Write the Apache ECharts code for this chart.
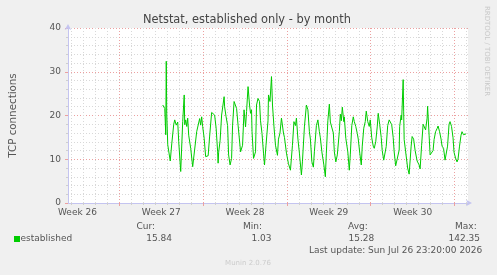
<!DOCTYPE html>
<html>
<head>
<meta charset="utf-8">
<title>Netstat, established only - by month</title>
<script src="https://cdn.jsdelivr.net/npm/echarts@6/dist/echarts.min.js"></script>
<style>
  html, body { margin: 0; padding: 0; background: #f0f0f0; }
  #chart { width: 497px; height: 275px; }
</style>
</head>
<body>
<div id="chart"></div>
<script>
// hours counted from the start (Monday 00:00) of week 27
const hours = [
  87, 89, 91, 93, 94, 95, 97, 102, 105, 109, 111, 114, 117, 119, 123, 127, 130, 131, 133, 135,
  137, 139, 143, 147, 151, 155, 158, 161, 163, 165, 167, 170, 173, 174, 178, 181, 185, 189, 191, 194,
  197, 198, 199, 202, 205, 207, 210, 211, 214, 215, 217, 219, 222, 225, 227, 230, 233, 235, 238, 241,
  243, 245, 247, 250, 253, 255, 258, 261, 263, 265, 266, 269, 270, 273, 275, 278, 281, 283, 286, 289,
  291, 294, 297, 298, 299, 302, 305, 307, 310, 313, 317, 319, 322, 325, 326, 329, 331, 335, 339, 343,
  347, 350, 353, 355, 358, 361, 365, 367, 371, 375, 378, 381, 383, 386, 389, 391, 395, 398, 401, 403,
  406, 410, 413, 415, 418, 421, 423, 426, 429, 431, 434, 437, 441, 443, 445, 447, 450, 451, 454, 458,
  461, 463, 466, 469, 471, 474, 477, 479, 482, 485, 487, 490, 493, 495, 498, 501, 503, 506, 509, 511,
  514, 517, 519, 522, 525, 527, 530, 533, 535, 538, 541, 543, 546, 549, 551, 554, 558, 561, 562, 565,
  566, 569, 570, 571, 574, 578, 581, 585, 587, 590, 593, 597, 601, 603, 606, 609, 611, 614, 617, 618,
  621, 623, 626, 629, 631, 634, 637, 639, 642, 645, 647, 650, 653, 655, 658, 661, 663, 666, 669, 671,
  674, 677, 679, 682, 685, 687, 690, 693, 695
];
const established = [
  22.4, 22.8, 21.6, 15.6, 32.4, 20.5, 13.3, 9.6, 13.5, 18.0, 19.0, 17.8, 18.5, 14.0, 7.2, 18.6, 24.7, 17.9, 19.0, 17.5,
  19.4, 15.5, 12.5, 8.3, 8.3, 16.3, 16.7, 19.3, 17.8, 19.7, 17.5, 14.8, 10.6, 10.8, 10.8, 15.3, 20.7, 20.3, 20.1, 17.1,
  11.7, 9.1, 11.5, 14.3, 20.1, 20.5, 24.3, 22.0, 19.7, 20.1, 17.7, 11.0, 8.7, 10.2, 17.8, 23.2, 23.5, 21.6, 17.8, 17.4,
  11.7, 11.4, 13.2, 21.3, 17.4, 20.9, 26.6, 22.4, 20.5, 21.3, 16.3, 10.2, 10.2, 11.7, 22.4, 23.9, 23.2, 18.8, 15.9, 11.4,
  8.7, 13.2, 13.5, 18.8, 24.7, 23.2, 28.9, 22.4, 17.4, 13.2, 10.9, 14.6, 16.0, 19.4, 19.7, 16.0, 15.0, 11.4, 9.0, 7.5,
  13.2, 18.6, 17.7, 19.4, 14.6, 11.4, 6.4, 9.4, 17.4, 22.4, 21.3, 16.3, 14.6, 9.4, 8.2, 11.7, 17.7, 19.0, 16.3, 14.9,
  11.7, 8.7, 6.0, 11.4, 18.8, 22.6, 18.5, 18.8, 16.0, 11.7, 9.4, 11.0, 16.3, 20.3, 18.8, 21.9, 18.6, 19.7, 14.8, 11.7,
  7.5, 11.0, 17.7, 19.7, 18.6, 17.5, 15.9, 14.6, 11.4, 8.7, 13.0, 17.1, 18.6, 21.0, 18.6, 17.5, 19.0, 14.9, 13.0, 12.5,
  14.0, 17.4, 20.5, 17.9, 15.0, 12.0, 9.8, 9.8, 12.9, 17.7, 19.0, 19.0, 17.9, 15.0, 11.7, 8.5, 8.5, 12.1, 17.5, 20.1,
  19.0, 28.2, 21.0, 14.5, 11.7, 8.0, 6.6, 13.0, 15.2, 14.6, 12.0, 9.6, 8.7, 7.8, 13.2, 18.0, 18.3, 16.7, 19.4, 22.1,
  15.5, 11.0, 11.0, 12.0, 14.5, 16.3, 17.0, 17.6, 16.3, 14.6, 13.0, 12.5, 9.8, 10.2, 13.0, 18.0, 18.6, 17.5, 14.9, 11.6,
  10.3, 9.4, 10.0, 13.0, 15.5, 16.3, 15.6, 15.6, 15.8
];

const dayLines = [-96, -72, -48, -24, 0, 24, 48, 72, 96, 120, 144, 168, 192, 216, 240, 264, 288, 312, 336,
  360, 384, 408, 432, 456, 480, 504, 528, 552, 576, 600, 624, 648, 672, 696];
const weekLines = [0, 168, 336, 504, 672];
const weekCenters = [-84, 84, 252, 420, 588];
const weekLabels = ["Week 26", "Week 27", "Week 28", "Week 29", "Week 30"];

const statNames = ["Cur:", "Min:", "Avg:", "Max:"];
const statValues = ["15.84", "1.03", "15.28", "142.35"];
const lastUpdate = "Last update: Sun Jul 26 23:20:00 2026";

const FONT = "DejaVu Sans";
const TXT = "#555";
const GRID_MINOR = "#d8d8d8";
const GRID_MAJOR = "#eca0a0";
const AXIS = "#c4c4f0";

const chart = echarts.init(document.getElementById("chart"), null, { renderer: "canvas" });

const statNameRight = [155, 262, 367.7, 476.7];
const statValueRight = [172, 271.5, 374.3, 480];

const graphics = [
  {
    type: "text", x: 247, y: 20.5,
    style: { text: "Netstat, established only - by month", font: "11.4px " + FONT, fill: "#444",
      textAlign: "center", textVerticalAlign: "middle" }
  },
  {
    type: "text", x: 487, y: 51, rotation: -Math.PI / 2,
    style: { text: "RRDTOOL / TOBI OETIKER", font: "7px " + FONT, fill: "#c8c8c8",
      textAlign: "center", textVerticalAlign: "middle" }
  },
  { type: "rect", shape: { x: 14, y: 236, width: 6, height: 6 }, style: { fill: "#00cc00" } },
  {
    type: "text", x: 20.5, y: 239,
    style: { text: "established", font: "9px " + FONT, fill: TXT, textVerticalAlign: "middle" }
  },
  {
    type: "text", x: 482.3, y: 251,
    style: { text: lastUpdate, font: "9px " + FONT, fill: TXT, textAlign: "right", textVerticalAlign: "middle" }
  },
  {
    type: "text", x: 248, y: 262.7,
    style: { text: "Munin 2.0.76", font: "7px " + FONT, fill: "#cccccc", textAlign: "center", textVerticalAlign: "middle" }
  }
];
statNames.forEach(function (n, i) {
  graphics.push({
    type: "text", x: statNameRight[i], y: 227,
    style: { text: n, font: "9px " + FONT, fill: TXT, textAlign: "right", textVerticalAlign: "middle" }
  });
  graphics.push({
    type: "text", x: statValueRight[i], y: 239,
    style: { text: statValues[i], font: "9px " + FONT, fill: TXT, textAlign: "right", textVerticalAlign: "middle" }
  });
});

const option = {
  backgroundColor: "#f0f0f0",
  animation: false,
  textStyle: { fontFamily: FONT },
  grid: {
    left: 67, top: 28, width: 401, height: 175,
    show: true, backgroundColor: "#ffffff", borderWidth: 0
  },
  xAxis: [
    {
      type: "value", min: -103, max: 699, position: "bottom",
      axisLine: {
        show: true, onZero: false, lineStyle: { color: AXIS, width: 1 },
        symbol: ["none", "arrow"], symbolSize: [5, 6], symbolOffset: [0, 4]
      },
      axisTick: { show: true, customValues: dayLines, length: 2, lineStyle: { color: "#cfcfcf" } },
      axisLabel: { show: false },
      splitLine: { show: true, lineStyle: { color: GRID_MINOR, type: [1, 2], width: 1 } }
    },
    {
      type: "value", min: -103, max: 699, position: "bottom", gridIndex: 0,
      axisLine: { show: false },
      axisTick: { show: true, customValues: weekLines, length: 3, lineStyle: { color: GRID_MAJOR } },
      axisLabel: {
        show: true, customValues: weekCenters, margin: 5, color: TXT, fontSize: 9, fontFamily: FONT,
        formatter: function (v) { return weekLabels[weekCenters.indexOf(v)]; }
      },
      splitLine: { show: true, lineStyle: { color: GRID_MAJOR, type: [1, 2], width: 1 } }
    }
  ],
  yAxis: {
    type: "value", min: 0, max: 40, interval: 10,
    name: "TCP connections", nameLocation: "middle", nameGap: 50,
    nameTextStyle: { color: TXT, fontSize: 10.3, fontFamily: FONT },
    axisLine: {
      show: true, onZero: false, lineStyle: { color: AXIS, width: 1 },
      symbol: ["none", "arrow"], symbolSize: [5, 6], symbolOffset: [0, 4]
    },
    axisTick: { show: true, length: 3, lineStyle: { color: GRID_MAJOR } },
    minorTick: { show: true, splitNumber: 5, length: 2, lineStyle: { color: "#cfcfcf" } },
    axisLabel: { color: TXT, fontSize: 9, fontFamily: FONT, margin: 7 },
    splitLine: { show: true, lineStyle: { color: GRID_MAJOR, type: [1, 2], width: 1 } },
    minorSplitLine: { show: true, lineStyle: { color: GRID_MINOR, type: [1, 2], width: 1 } }
  },
  series: [
    {
      name: "established",
      type: "line",
      xAxisIndex: 0,
      showSymbol: false,
      symbol: "none",
      lineStyle: { color: "#00cc00", width: 1 },
      itemStyle: { color: "#00cc00" },
      data: hours.map(function (h, i) { return [h, established[i]]; }),
      z: 5
    }
  ],
  graphic: graphics
};

chart.setOption(option);
</script>
</body>
</html>
